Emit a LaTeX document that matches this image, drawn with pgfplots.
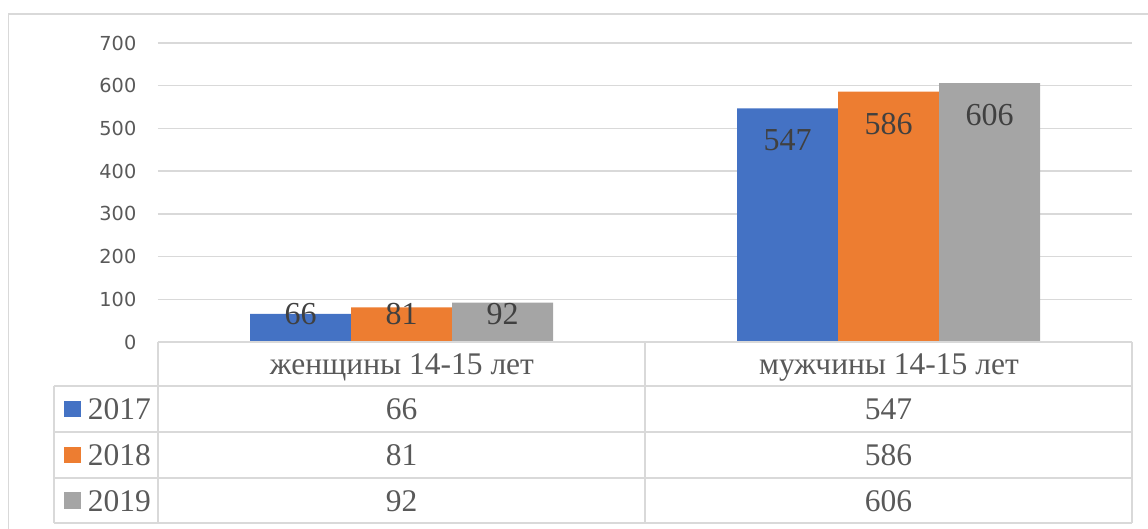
\documentclass[border=0pt]{standalone}
\usepackage{fontspec}
\setmainfont{Liberation Serif}
\newfontfamily\dejavu{DejaVu Sans}
\usepackage{pgfplots}
\pgfplotsset{compat=1.18}
\definecolor{cblue}{HTML}{4472C4}
\definecolor{corange}{HTML}{ED7D31}
\definecolor{cgray}{HTML}{A5A5A5}
\definecolor{cgrid}{HTML}{D9D9D9}
\definecolor{ctick}{HTML}{595959}
\definecolor{clab}{HTML}{404040}
\begin{document}
\begin{tikzpicture}
\useasboundingbox (-158pt,-187pt) rectangle (990pt,342pt);
\draw[cgrid, line width=1.3pt] (-149.5pt,-200pt) rectangle (1000pt,328pt);
\begin{axis}[
  at={(0pt,0pt)}, anchor=south west,
  x=487pt, y=0.42714pt,
  xmin=-0.5, xmax=1.5, ymin=0, ymax=700,
  ytick={0,100,...,700}, xtick=\empty,
  ymajorgrids, major grid style={draw=cgrid, line width=1.3pt},
  axis line style={draw=none}, tick style={draw=none},
  ybar=0pt, bar width=101pt, clip=false,
  /pgf/number format/assume math mode=true,
  yticklabel style={font=\dejavu\fontsize{19.3}{21}\selectfont, text=ctick, anchor=east, inner sep=0pt, xshift=-21.5pt},
  nodes near coords,
  visualization depends on={y \as \rawy},
  every node near coord/.append style={font=\fontsize{32}{34}\selectfont, text=clab, anchor=center, inner sep=0pt, yshift={max(-32,28-\rawy*0.42714)}},
  every axis plot/.append style={draw=none},
]
\addplot[fill=cblue] coordinates {(0,66) (1,547)};
\addplot[fill=corange] coordinates {(0,81) (1,586)};
\addplot[fill=cgray] coordinates {(0,92) (1,606)};
\end{axis}
% data table
\begin{scope}[cgrid, line width=1.3pt]
\draw (0pt,0pt) -- (0pt,-181pt);
\draw (487pt,0pt) -- (487pt,-181pt);
\draw (974pt,0pt) -- (974pt,-181pt);
\draw (-104pt,-44pt) -- (-104pt,-181pt);
\draw (0pt,0pt) -- (974pt,0pt);
\foreach \yy in {-44,-90,-136,-181} \draw (-104pt,\yy pt) -- (974pt,\yy pt);
\end{scope}
\begin{scope}[every node/.style={inner sep=0pt, text=ctick, font=\fontsize{31.5}{33}\selectfont}]
\node[anchor=base] at (244pt,-32.6pt) {женщины 14-15 лет};
\node[anchor=base] at (731pt,-32.6pt) {мужчины 14-15 лет};
\node[anchor=base] at (243.5pt,-77.6pt) {66};
\node[anchor=base] at (730.5pt,-77.6pt) {547};
\node[anchor=base] at (243.5pt,-123.6pt) {81};
\node[anchor=base] at (730.5pt,-123.6pt) {586};
\node[anchor=base] at (243.5pt,-169.1pt) {92};
\node[anchor=base] at (730.5pt,-169.1pt) {606};
\node[anchor=base west] at (-70.3pt,-77.6pt) {2017};
\node[anchor=base west] at (-70.3pt,-123.6pt) {2018};
\node[anchor=base west] at (-70.3pt,-169.1pt) {2019};
\end{scope}
\fill[cblue] (-94pt,-75.3pt) rectangle (-77.3pt,-58.7pt);
\fill[corange] (-94pt,-121.3pt) rectangle (-77.3pt,-104.7pt);
\fill[cgray] (-94pt,-166.8pt) rectangle (-77.3pt,-150.2pt);
\end{tikzpicture}
\end{document}
